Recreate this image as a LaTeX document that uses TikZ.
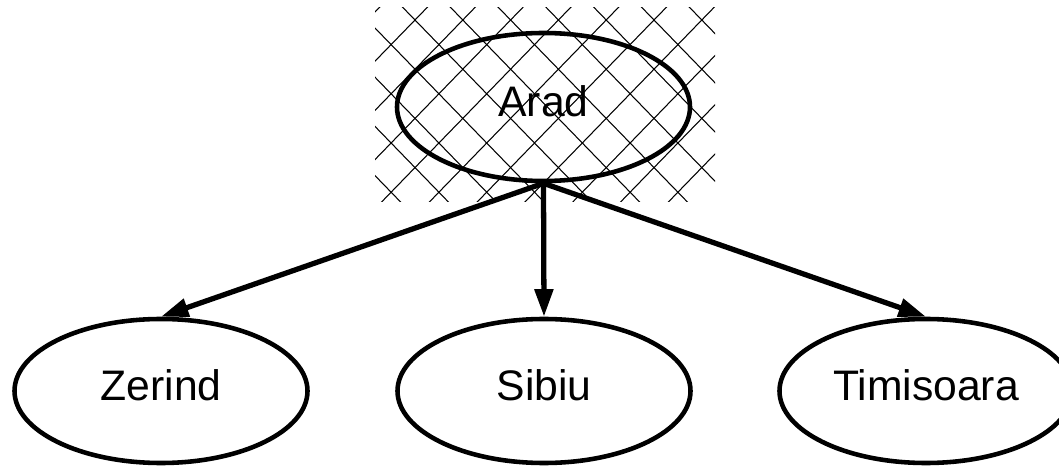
\documentclass[tikz,border=0pt]{standalone}
\usepackage{fontspec}
\setmainfont{Liberation Sans}
\usetikzlibrary{shapes.geometric,arrows.meta}

\begin{document}
\begin{tikzpicture}[
    city/.style={ellipse,draw,line width=2.6pt,minimum width=5.86cm,minimum height=2.88cm,
                 inner sep=0pt,text depth=0.25cm,font=\fontsize{24.3}{29}\selectfont},
    edge/.style={-{Triangle[length=0.55cm,width=0.36cm]},line width=3pt},
    hatch/.style={line width=0.6pt}
]
                    \useasboundingbox (0,0) rectangle (21.18,9.32);
                    % cross-hatched box behind the start node
                    \begin{scope}
                    \clip (7.5,5.28) rectangle (14.3,9.16);
                    \foreach \k in {-5,...,10} {
                        \draw[hatch] ({8.3+0.956*\k-0.478},9.412) -- ++(4.78,-4.92);
                        \draw[hatch] ({8.3+0.956*\k+0.478},9.412) -- ++(-4.78,-4.92);
                    }
                    \end{scope}

                    \path
                    (10.87,7.18) node[city,minimum height=2.96cm](arad) {Arad}
                    (3.22,1.5) node[city](zerind) {Zerind}
                    (10.88,1.5) node[city](sibiu) {Sibiu}
                    (18.52,1.5) node[city](timisoara) {Timisoara};

                    \draw[edge] (arad.south) -- (zerind.north);
                    \draw[edge] (arad.south) -- (sibiu.north);
                    \draw[edge] (arad.south) -- (timisoara.north);
                \end{tikzpicture}
\end{document}
